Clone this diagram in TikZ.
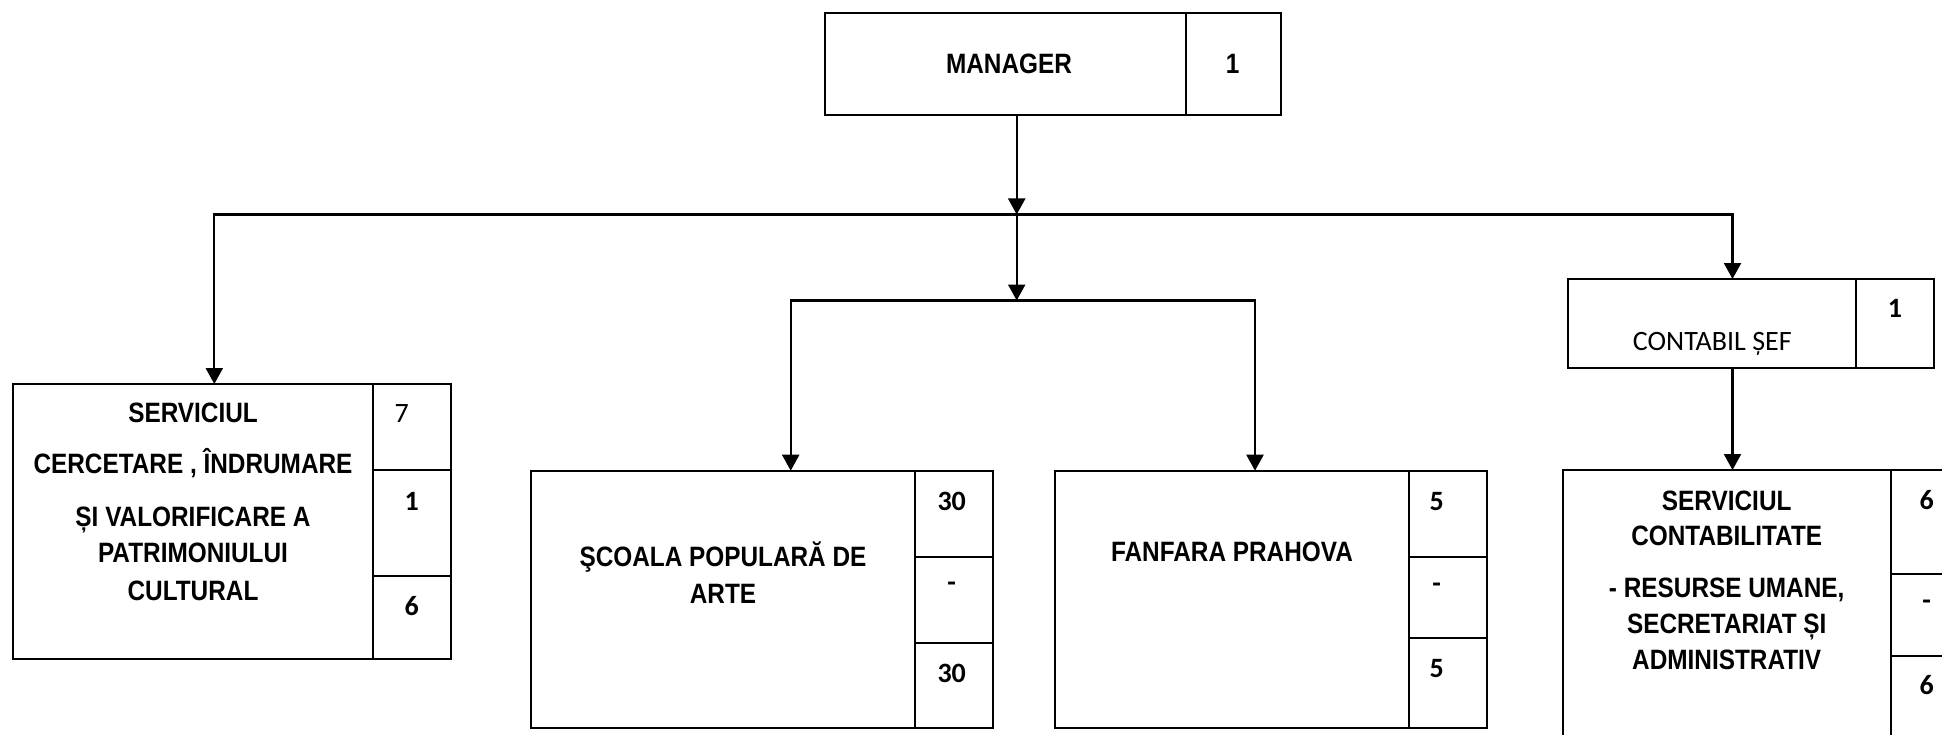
\documentclass[tikz,border=0pt]{standalone}
\usepackage{fontspec}
\setmainfont{Liberation Sans}
\newfontfamily\narfont{Liberation Sans}[FakeStretch=0.87]
\newfontfamily\calfont{Carlito}
\usetikzlibrary{arrows.meta,fit}
\begin{document}
\begin{tikzpicture}[x=1pt,y=-1pt,
  box/.style={draw, line width=2.2pt, inner sep=0pt, outer sep=0pt},
  lbl/.style={anchor=base, inner sep=0pt, font=\narfont\bfseries\fontsize{28}{34}\selectfont},
  num/.style={anchor=base, inner sep=0pt, font=\calfont\bfseries\fontsize{28}{34}\selectfont},
  numr/.style={anchor=base, inner sep=0pt, font=\calfont\fontsize{28}{34}\selectfont},
  dashtxt/.style={anchor=center, inner sep=0pt, font=\calfont\bfseries\fontsize{28}{34}\selectfont},
  arr/.style={line width=2.2pt, -{Triangle[length=16pt,width=17pt]}},
]
\useasboundingbox (0,0) rectangle (1942,735);
\clip (0,0) rectangle (1942,735);

% MANAGER
\node[box, fit={(825,12.7)(1185.7,115)}] (mgr) {};
\node[box, fit={(1185.7,12.7)(1281,115)}] (mgrN) {};
\node[lbl] (tmgr) at (1009,73.3) {MANAGER};
\node[lbl] (tmgrN) at (1232.7,73.3) {1};

% SERVICIUL CERCETARE
\node[box, fit={(12.7,384)(372.7,658.7)}] (sv) {};
\node[box, fit={(372.7,384)(450.7,470)}] (svN1) {};
\node[box, fit={(372.7,470)(450.7,575.7)}] (svN2) {};
\node[box, fit={(372.7,575.7)(450.7,658.7)}] (svN3) {};
\node[lbl] (tsv1) at (193,422.7) {SERVICIUL};
\node[lbl] (tsv2) at (193,473.3) {CERCETARE , ÎNDRUMARE};
\node[lbl] (tsv3) at (193,526.7) {ȘI VALORIFICARE A};
\node[lbl] (tsv4) at (193,562.7) {PATRIMONIULUI};
\node[lbl] (tsv5) at (193,600) {CULTURAL};
\node[numr] (tsvN1) at (401.7,422.7) {7};
\node[num] (tsvN2) at (411.7,510) {1};
\node[num] (tsvN3) at (411.7,615) {6};

% SCOALA POPULARA
\node[box, fit={(531,470.7)(915,728.3)}] (sc) {};
\node[box, fit={(915,470.7)(992.7,556.7)}] (scN1) {};
\node[box, fit={(915,556.7)(992.7,642.7)}] (scN2) {};
\node[box, fit={(915,642.7)(992.7,728.3)}] (scN3) {};
\node[lbl] (tsc1) at (723,566.7) {ŞCOALA POPULARĂ DE};
\node[lbl] (tsc2) at (723,603.3) {ARTE};
\node[num] (tscN1) at (951.7,510) {30};
\node[dashtxt] (tscN2) at (951.7,587) {-};
\node[num] (tscN3) at (951.7,682.3) {30};

% FANFARA
\node[box, fit={(1055,470.7)(1409,728.3)}] (ff) {};
\node[box, fit={(1409,470.7)(1486.7,556.7)}] (ffN1) {};
\node[box, fit={(1409,556.7)(1486.7,638.3)}] (ffN2) {};
\node[box, fit={(1409,638.3)(1486.7,728.3)}] (ffN3) {};
\node[lbl] (tff) at (1232,561.7) {FANFARA PRAHOVA};
\node[num] (tffN1) at (1436.7,510) {5};
\node[dashtxt] (tffN2) at (1436.7,587.3) {-};
\node[num] (tffN3) at (1436.7,677.7) {5};

% CONTABIL SEF
\node[box, fit={(1568.3,279)(1856,368.3)}] (cs) {};
\node[box, fit={(1856,279)(1934,368.3)}] (csN) {};
\node[numr] (tcs) at (1712.3,350) {CONTABIL ȘEF};
\node[num] (tcsN) at (1895,317.3) {1};

% SERVICIUL CONTABILITATE
\node[box, fit={(1563.3,470)(1891,760)}] (sc2) {};
\node[box, fit={(1891,470)(1970,574)}] (sc2N1) {};
\node[box, fit={(1891,574)(1970,655.7)}] (sc2N2) {};
\node[box, fit={(1891,655.7)(1970,760)}] (sc2N3) {};
\node[lbl] (tsc21) at (1726.7,510) {SERVICIUL};
\node[lbl] (tsc22) at (1726.7,545) {CONTABILITATE};
\node[lbl] (tsc23) at (1726.7,597.3) {- RESURSE UMANE,};
\node[lbl] (tsc24) at (1726.7,633.3) {SECRETARIAT ȘI};
\node[lbl] (tsc25) at (1726.7,669.3) {ADMINISTRATIV};
\node[num] (tsc2N1) at (1926.7,509.3) {6};
\node[dashtxt] (tsc2N2) at (1926.7,605) {-};
\node[num] (tsc2N3) at (1926.7,694.3) {6};

% junctions
\coordinate (jC) at (1016.7,214.5);
\coordinate (jL) at (214.3,214.5);
\coordinate (jR) at (1732.5,214.5);
\coordinate (j2) at (1016.7,300.5);
\coordinate (j2L) at (790.7,300.5);
\coordinate (j2R) at (1255,300.5);

% connectors
\draw[arr] (mgr.south -| jC) -- (jC);
\draw[arr] (jC) -- (j2);
\draw[arr] (jC) -- (jL) -- (sv.north -| jL);
\draw[arr] (jC) -- (jR) -- (cs.north -| jR);
\draw[arr] (j2) -- (j2L) -- (sc.north -| j2L);
\draw[arr] (j2) -- (j2R) -- (ff.north -| j2R);
\draw[arr] (cs.south -| jR) -- (sc2.north -| jR);
\end{tikzpicture}
\end{document}
